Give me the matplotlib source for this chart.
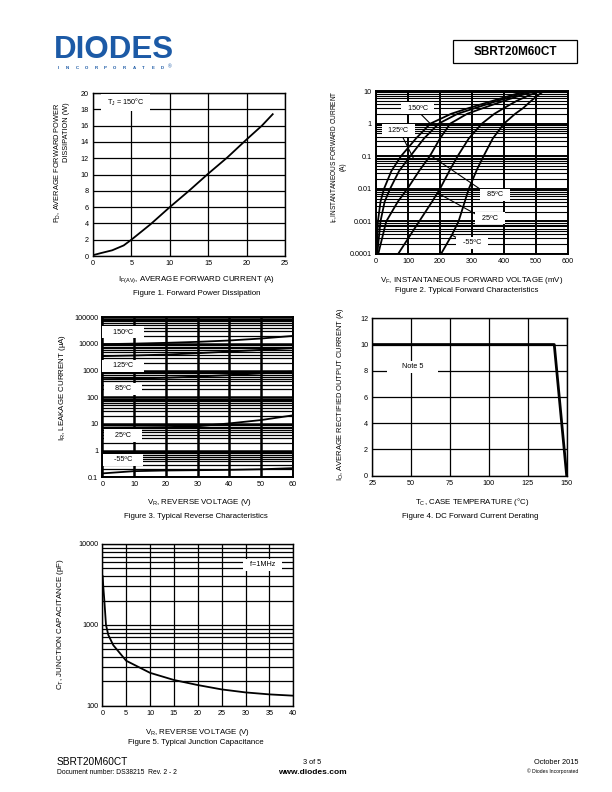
import matplotlib
matplotlib.use("Agg")
import matplotlib.pyplot as plt
from matplotlib.patches import Rectangle
import numpy as np

plt.rcParams['font.family'] = ['Liberation Sans', 'DejaVu Sans']
plt.rcParams['mathtext.fontset'] = 'custom'
plt.rcParams['mathtext.rm'] = 'Liberation Sans'
plt.rcParams['mathtext.it'] = 'Liberation Sans'

W, H = 612, 792

# ---------------- data ----------------
# Figure 1: forward power dissipation (A, W)
f1_if = [0, 1, 2.5, 4, 5, 7.5, 10, 12.5, 15, 17.5, 20, 22, 23.4]
f1_pd = [0.1, 0.35, 0.7, 1.3, 2.0, 3.9, 6.0, 8.0, 10.1, 12.1, 14.3, 16.0, 17.4]

# Figure 2: forward characteristics (mV, A)
f2_v_150 = [2, 6, 14, 25, 48, 78, 125, 170, 235, 290, 365, 425, 470]
f2_i_150 = [1e-4, 1e-3, 4e-3, 1e-2, 0.035, 0.1, 0.35, 1.0, 2.0, 3.0, 5.0, 7.5, 10]
f2_v_125 = [4, 14, 27, 44, 72, 107, 150, 196, 255, 310, 380, 440, 485]
f2_i_125 = [1e-4, 1e-3, 4e-3, 1e-2, 0.035, 0.1, 0.35, 1.0, 2.0, 3.0, 5.0, 7.5, 10]
f2_v_85 = [7, 32, 68, 98, 137, 168, 200, 232, 285, 335, 400, 455, 500]
f2_i_85 = [1e-4, 1e-3, 4e-3, 1e-2, 0.038, 0.1, 0.35, 1.0, 2.0, 3.0, 5.0, 7.5, 10]
f2_v_25 = [69, 135, 175, 200, 231, 255, 290, 331, 370, 400, 440, 480, 515]
f2_i_25 = [1e-4, 1e-3, 4e-3, 1e-2, 0.038, 0.1, 0.35, 1.0, 2.0, 3.0, 5.0, 7.5, 10]
f2_v_m55 = [203, 237, 258, 290, 315, 336, 365, 400, 435, 460, 485, 507, 525]
f2_i_m55 = [1e-4, 3.8e-4, 1e-3, 1e-2, 0.038, 0.1, 0.35, 1.0, 2.0, 3.0, 5.0, 7.5, 10]

# Figure 3: reverse characteristics (V, uA)
f3_v = [0, 10, 20, 30, 40, 50, 60]
f3_150 = [9800, 10300, 11000, 12000, 13500, 16000, 20000]
f3_125 = [3500, 3700, 4000, 4500, 5200, 6000, 7000]
f3_85 = [480, 500, 540, 600, 680, 790, 920]
f3_25 = [7.3, 7.4, 7.6, 8.2, 10.5, 14.0, 21.0]
f3_m55 = [0.14, 0.17, 0.18, 0.185, 0.19, 0.2, 0.22]

# Figure 4: derating (degC, A)
f4_tc = [25, 142, 150]
f4_io = [10, 10, 0]

# Figure 5: junction capacitance (V, pF)
f5_vr = [0.08, 0.2, 0.42, 0.77, 1.26, 2.3, 5, 10, 15, 20, 25, 30, 35, 40]
f5_ct = [4000, 3000, 2030, 1000, 750, 560, 360, 255, 208, 180, 159, 146, 138, 133]

fig = plt.figure(figsize=(W / 100, H / 100), dpi=100)


def ax_at(l, t, r, b):
    return fig.add_axes([l / W, 1 - b / H, (r - l) / W, (b - t) / H])


def ftext(x, y, s, **kw):
    fig.text(x / W, 1 - y / H, s, **kw)


TICK = 5.2
LAB = 5.7


def style(ax, lw=1.0):
    for s in ax.spines.values():
        s.set_linewidth(lw)
        s.set_color('black')
    ax.tick_params(axis='both', which='both', length=0, labelsize=TICK, pad=3)


def logminor(ax):
    ax.yaxis.set_minor_locator(matplotlib.ticker.LogLocator(base=10, subs=np.arange(2, 10)))
    ax.yaxis.set_minor_formatter(matplotlib.ticker.NullFormatter())


box = dict(facecolor='white', edgecolor='none', pad=2.0)


def lbl(ax, x, y, s):
    ax.text(x, y, s, fontsize=TICK, ha='center', va='center', bbox=box, zorder=5)


# ---------------- Figure 1 ----------------
ax1 = ax_at(93, 93, 285, 256)
ax1.plot(f1_if, f1_pd, color='black', lw=1.3)
ax1.set_xlim(0, 25)
ax1.set_ylim(0, 20)
ax1.set_xticks(range(0, 26, 5))
ax1.set_yticks(range(0, 21, 2))
ax1.grid(True, color='black', lw=0.9)
style(ax1)
lbl(ax1, 4.2, 18.8, '  T$_J$ = 150°C  ')

# ---------------- Figure 2 ----------------
ax2 = ax_at(376, 91, 568, 254)
for v, i in [(f2_v_150, f2_i_150), (f2_v_125, f2_i_125), (f2_v_85, f2_i_85),
             (f2_v_25, f2_i_25), (f2_v_m55, f2_i_m55)]:
    ax2.plot(v, i, color='black', lw=1.3)
ax2.set_yscale('log')
ax2.set_xlim(0, 600)
ax2.set_ylim(1e-4, 10)
ax2.set_xticks(range(0, 601, 100))
ax2.set_yticks([1e-4, 1e-3, 1e-2, 1e-1, 1, 10])
ax2.set_yticklabels(['0.0001', '0.001', '0.01', '0.1', '1', '10'])
logminor(ax2)
ax2.grid(True, which='major', color='black', lw=1.4)
ax2.grid(True, which='minor', axis='y', color='black', lw=0.8)
style(ax2, 1.4)
pl = dict(arrowstyle='-', lw=0.8, color='black', shrinkA=0, shrinkB=0)
ax2.annotate('', xy=(174, 0.9), xytext=(137, 2.1), arrowprops=pl)
ax2.annotate('', xy=(117, 0.086), xytext=(80, 0.45), arrowprops=pl)
ax2.annotate('', xy=(169, 0.108), xytext=(330, 0.0091), arrowprops=pl)
ax2.annotate('', xy=(195, 0.0072), xytext=(315, 0.0016), arrowprops=pl)
ax2.annotate('', xy=(237, 0.00038), xytext=(262, 0.00028), arrowprops=pl)
lbl(ax2, 130, 3.0, '  150ºC  ')
lbl(ax2, 70, 0.62, '  125ºC  ')
lbl(ax2, 372, 0.0065, '  85ºC  ')
lbl(ax2, 356, 0.00126, '  25ºC  ')
lbl(ax2, 300, 0.00022, '  -55ºC  ')

# ---------------- Figure 3 ----------------
ax3 = ax_at(102.3, 317.3, 292.7, 477.3)
for y in [f3_150, f3_125, f3_85, f3_25, f3_m55]:
    ax3.plot(f3_v, y, color='black', lw=1.3)
ax3.set_yscale('log')
ax3.set_xlim(0, 60)
ax3.set_ylim(0.1, 100000)
ax3.set_xticks(range(0, 61, 10))
ax3.set_yticks([0.1, 1, 10, 100, 1000, 10000, 100000])
ax3.set_yticklabels(['0.1', '1', '10', '100', '1000', '10000', '100000'])
logminor(ax3)
ax3.grid(True, which='major', color='black', lw=1.8)
ax3.grid(True, which='minor', axis='y', color='black', lw=0.9)
style(ax3, 1.4)
lbl(ax3, 6.5, 28000, '    150ºC    ')
lbl(ax3, 6.5, 1500, '    125ºC    ')
lbl(ax3, 6.5, 205, '    85ºC    ')
lbl(ax3, 6.5, 3.7, '    25ºC    ')
lbl(ax3, 6.5, 0.45, '    -55ºC    ')

# ---------------- Figure 4 ----------------
ax4 = ax_at(372.3, 318.3, 566.7, 475.7)
ax4.plot(f4_tc, f4_io, color='black', lw=2.0)
ax4.set_xlim(25, 150)
ax4.set_ylim(0, 12)
ax4.set_xticks(range(25, 151, 25))
ax4.set_yticks(range(0, 13, 2))
ax4.grid(True, color='black', lw=0.9)
style(ax4)
lbl(ax4, 51, 8.3, '      Note 5      ')

# ---------------- Figure 5 ----------------
ax5 = ax_at(102.3, 544, 293.3, 705.7)
ax5.plot(f5_vr, f5_ct, color='black', lw=1.3)
ax5.set_yscale('log')
ax5.set_xlim(0, 40)
ax5.set_ylim(100, 10000)
ax5.set_xticks(range(0, 41, 5))
ax5.set_yticks([100, 1000, 10000])
ax5.set_yticklabels(['100', '1000', '10000'])
logminor(ax5)
ax5.grid(True, which='major', color='black', lw=0.9)
ax5.grid(True, which='minor', axis='y', color='black', lw=0.9)
style(ax5)
lbl(ax5, 33.5, 5500, '  f=1MHz  ')

# ---------------- axis labels & captions ----------------
ftext(58, 223, 'P$_D$, AVERAGE FORWARD POWER', rotation=90, fontsize=5.3, ha='center', va='bottom')
ftext(67, 162, 'DISSIPATION (W)', rotation=90, fontsize=5.3, ha='center', va='bottom')
ftext(197, 280, 'I$_{F(AV)}$, AVERAGE FORWARD CURRENT (A)', fontsize=LAB, ha='center', va='center')
ftext(197, 293, 'Figure 1. Forward Power Dissipation', fontsize=LAB, ha='center', va='center')

ftext(335, 157, 'I$_F$,INSTANTANEOUS FORWARD CURRENT', rotation=90, fontsize=4.7, ha='center', va='center')
ftext(343, 167, '(A)', rotation=90, fontsize=4.7, ha='center', va='center')
ftext(472, 281, 'V$_F$, INSTANTANEOUS FORWARD VOLTAGE (mV)', fontsize=LAB, ha='center', va='center')
ftext(467, 291, 'Figure 2. Typical Forward Characteristics', fontsize=LAB, ha='center', va='center')

ftext(62, 388, 'I$_R$, LEAKAGE CURRENT (µA)', rotation=90, fontsize=5.7, ha='center', va='center')
ftext(200, 503, 'V$_R$, REVERSE VOLTAGE (V)', fontsize=LAB, ha='center', va='center')
ftext(196, 516, 'Figure 3. Typical Reverse Characteristics', fontsize=LAB, ha='center', va='center')

ftext(341, 394, 'I$_O$, AVERAGE RECTIFIED OUTPUT CURRENT (A)', rotation=90, fontsize=5.4, ha='center', va='center')
ftext(472, 502, 'T$_C$, CASE TEMPERATURE (°C)', fontsize=LAB, ha='center', va='center')
ftext(470, 516, 'Figure 4. DC Forward Current Derating', fontsize=LAB, ha='center', va='center')

ftext(60, 624, 'C$_T$, JUNCTION CAPACITANCE (pF)', rotation=90, fontsize=5.8, ha='center', va='center')
ftext(198, 732, 'V$_R$, REVERSE VOLTAGE (V)', fontsize=LAB, ha='center', va='center')
ftext(196, 742, 'Figure 5. Typical Junction Capacitance', fontsize=LAB, ha='center', va='center')

# ---------------- header ----------------
ftext(54, 50, 'DIODES', fontsize=22.5, fontweight='bold', color='#1c5aa6', ha='left', va='center')
letters = 'INCORPORATED'
for k, ch in enumerate(letters):
    ftext(58 + k * 9.5, 68, ch, fontsize=3.2, fontweight='bold', color='#1c5aa6', ha='center', va='center')
ftext(170, 67, '®', fontsize=3.5, color='#1c5aa6', ha='center', va='center')
fig.add_artist(Rectangle((453 / W, 1 - 63 / H), 124 / W, 23 / H, transform=fig.transFigure,
                         facecolor='white', edgecolor='black', lw=0.9))
ftext(515, 52, 'SBRT20M60CT', fontsize=8.5, fontweight='bold', ha='center', va='center')

# ---------------- footer ----------------
ftext(57, 762, 'SBRT20M60CT', fontsize=7.3, ha='left', va='center')
ftext(57, 772, 'Document number: DS38215  Rev. 2 - 2', fontsize=4.9, ha='left', va='center')
ftext(312, 762, '3 of 5', fontsize=5.3, ha='center', va='center')
ftext(312, 772, 'www.diodes.com', fontsize=6.0, fontweight='bold', ha='center', va='center')
ftext(578, 762, 'October 2015', fontsize=5.3, ha='right', va='center')
ftext(578, 771, '© Diodes Incorporated', fontsize=3.6, ha='right', va='center')

fig.savefig('out.png', dpi=100)
